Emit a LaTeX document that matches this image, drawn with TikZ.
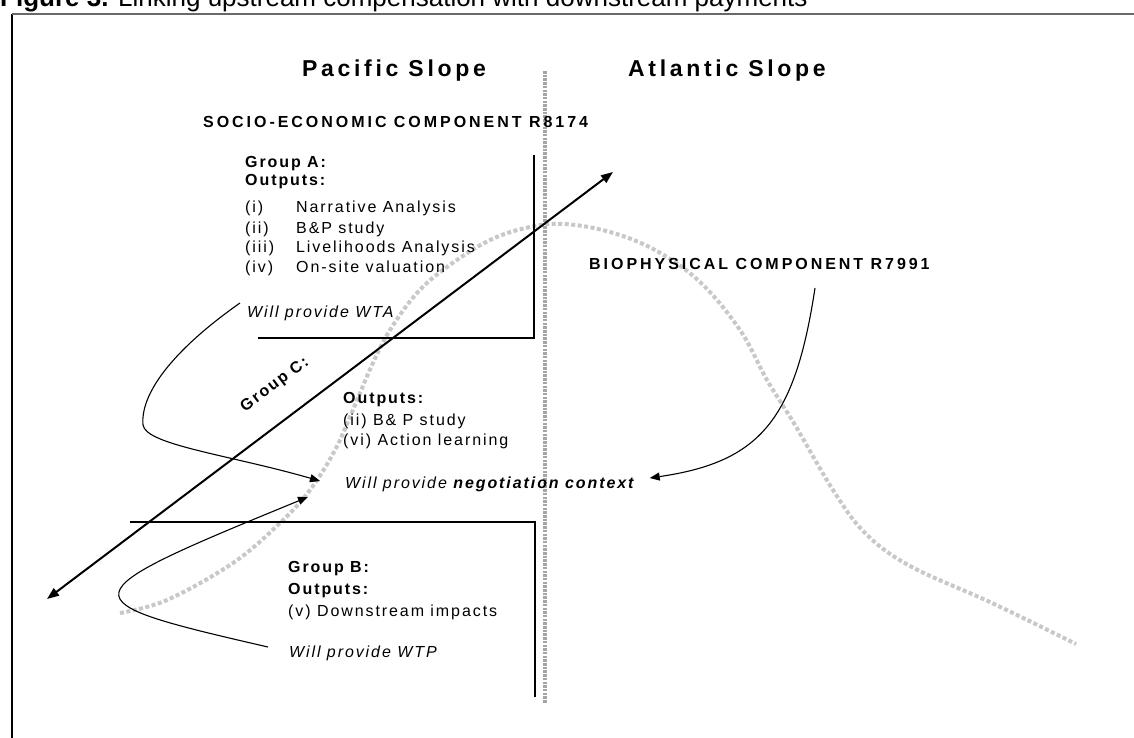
\documentclass[tikz,border=0pt]{standalone}
\usepackage{fontspec}
\setmainfont{Liberation Sans}
\newfontfamily\spacedfont[LetterSpace=12]{Liberation Sans}
\newfontfamily\compfont[LetterSpace=18.5]{Liberation Sans}
\newfontfamily\slopefont[LetterSpace=16]{Liberation Sans}
\usetikzlibrary{arrows.meta,positioning,calc}
\definecolor{DotGray}{RGB}{200,200,200}
\definecolor{DivGray}{RGB}{165,165,165}
\definecolor{FrameGray}{RGB}{105,105,105}

\tikzset{
  txt/.style={anchor=base west, inner sep=0pt, font=\fontsize{16}{19}\selectfont\spacedfont},
  head/.style={txt, font=\fontsize{16}{19}\selectfont\spacedfont\bfseries},
  note/.style={txt, font=\fontsize{16}{19}\selectfont\spacedfont\itshape},
  comp/.style={anchor=base west, inner sep=0pt, font=\fontsize{16}{19}\selectfont\compfont\bfseries},
  slope/.style={anchor=base west, inner sep=0pt, font=\fontsize{23}{27}\selectfont\slopefont\bfseries},
  boxline/.style={line width=1.3pt},
  flow/.style={line width=1.1pt, -{Triangle[length=10pt,width=8pt]}},
  axisline/.style={line width=2pt, {Triangle[length=12pt,width=9pt]}-{Triangle[length=12pt,width=9pt]}},
  divide/.style={DivGray, line width=4.5pt, dash pattern=on 2.5pt off 1.2pt},
  ridge/.style={DotGray, line width=4pt, dash pattern=on 4pt off 2.5pt}
}

\begin{document}
\begin{tikzpicture}[x=1pt, y=-1pt]
  \useasboundingbox (0,0) rectangle (1134,737);
  \clip (0,0) rectangle (1134,737);

  % caption and frame
  \node[anchor=base west, inner sep=0pt, font=\fontsize{26}{30}\selectfont] (title) at (0,6)
    {\textbf{Figure 3.} Linking upstream compensation with downstream payments};
  \draw[line width=1.3pt] (12,760) -- (12,13.5);
  \draw[FrameGray, line width=2pt] (11.5,13.5) -- (1150,13.5);

  % slopes and the watershed divide
  \node[slope] (pacific) at (302,76) {Pacific Slope};
  \node[slope] (atlantic) at (628,76) {Atlantic Slope};
  \draw[divide] (545,71) -- (545,703);

  % mountain profile
  \draw[ridge] plot[smooth, tension=0.6] coordinates {
    (120,613) (167,600) (233,563) (280,523) (310,490) (335,450) (355,405)
    (372,365) (390,330) (417,293) (447,267) (490,240) (530,227) (565,224)
    (610,232) (655,250) (700,282) (740,330) (767,380) (795,425) (833,490)
    (865,533) (910,566) (992,603) (1076,644)};

  % components
  \node[comp] (socio) at (203,127) {SOCIO-ECONOMIC COMPONENT R8174};
  \node[comp] (bio) at (589,269) {BIOPHYSICAL COMPONENT R7991};

  % group A
  \node[head] (grpA) at (245,167) {Group A:};
  \node[head] (outA) at (245,185) {Outputs:};
  \node[txt] (outA1) at (245,212) {\makebox[51pt][l]{(i)}Narrative Analysis};
  \node[txt] (outA2) at (245,233) {\makebox[51pt][l]{(ii)}B\&P study};
  \node[txt] (outA3) at (245,252) {\makebox[51pt][l]{(iii)}Livelihoods Analysis};
  \node[txt] (outA4) at (245,272) {\makebox[51pt][l]{(iv)}On-site valuation};
  \node[note] (wta) at (247,317) {Will provide WTA};
  \draw[boxline] (258,338) -- (534,338) -- (534,155);

  % group C
  \node[head, rotate=37, anchor=center] (grpC) at (275,385) {Group C:};
  \node[head] (outC) at (343,403) {Outputs:};
  \node[txt] (outC1) at (343,425) {(ii) B\& P study};
  \node[txt] (outC2) at (343,445) {(vi) Action learning};
  \node[note] (nego) at (345,488) {Will provide \textbf{negotiation context}};

  % group B
  \node[head] (grpB) at (288,572) {Group B:};
  \node[head] (outB) at (288,594) {Outputs:};
  \node[txt] (outB1) at (288,616) {(v) Downstream impacts};
  \node[note] (wtp) at (289,657) {Will provide WTP};
  \draw[boxline] (130,522) -- (535,522) -- (535,697);

  % upstream-downstream axis
  \coordinate (upend) at (613,172);
  \coordinate (downend) at (47,599);
  \draw[axisline] (downend) -- (upend);

  % links to the negotiation
  \coordinate (biostart) at (815,288);
  \coordinate (wtabend) at (143,425);
  \draw[flow] ($(wta.base west)+(-7,-14)$) .. controls (180,345) and (140,390) .. (wtabend)
    .. controls (146,445) and (230,455) .. ($(nego.base west)+(-25,-7)$);
  \draw[flow] ($(wtp.base west)+(-21,-10)$) .. controls (64,600) and (64,597) .. ($(nego.base west)+(-37,9)$);
  \draw[flow] (biostart) .. controls (795,420) and (760,462) .. ($(nego.base east)+(16,-10)$);
\end{tikzpicture}
\end{document}
